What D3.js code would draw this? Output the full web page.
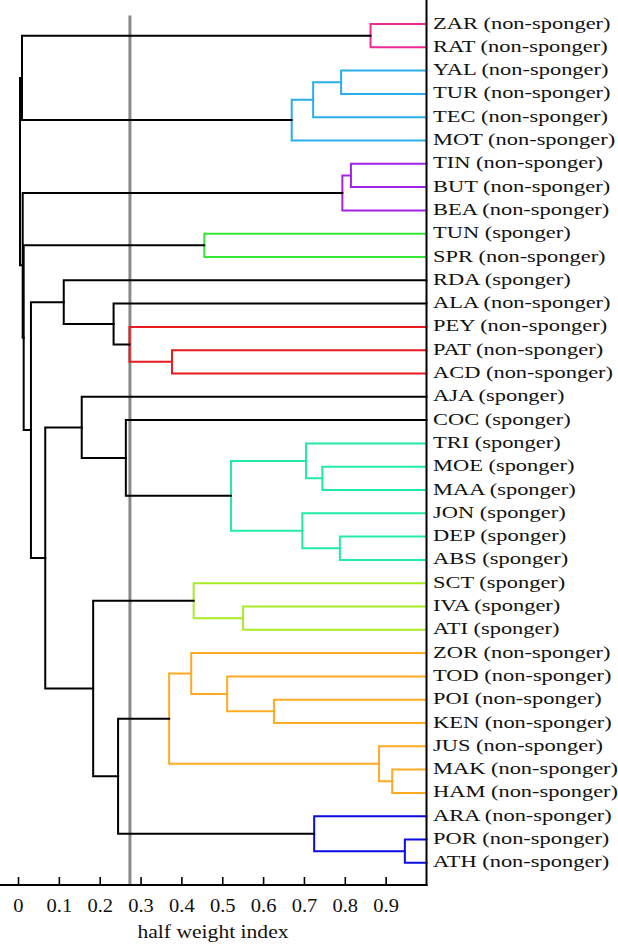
<!DOCTYPE html>
<html>
<head>
<meta charset="utf-8">
<script src="https://cdn.jsdelivr.net/npm/d3@7"></script>
<style>
  html, body { margin: 0; padding: 0; background: #fff; }
  svg { display: block; }
</style>
</head>
<body>
<svg id="chart" width="618" height="946"></svg>
<script>
// ---- data ----
const leaves = ["ZAR","RAT","YAL","TUR","TEC","MOT","TIN","BUT","BEA","TUN","SPR","RDA","ALA","PEY","PAT","ACD","AJA","COC","TRI","MOE","MAA","JON","DEP","ABS","SCT","IVA","ATI","ZOR","TOD","POI","KEN","JUS","MAK","HAM","ARA","POR","ATH"];
const leafTypes = ["non-sponger","non-sponger","non-sponger","non-sponger","non-sponger","non-sponger","non-sponger","non-sponger","non-sponger","sponger","non-sponger","sponger","non-sponger","non-sponger","non-sponger","non-sponger","sponger","sponger","sponger","sponger","sponger","sponger","sponger","sponger","sponger","sponger","sponger","non-sponger","non-sponger","non-sponger","non-sponger","non-sponger","non-sponger","non-sponger","non-sponger","non-sponger","non-sponger"];
// merges: node ids 0..36 are leaves, merge k gets id 37+k
const mergeLeft   = [0, 2, 38, 39, 6, 41, 9, 14, 13, 12, 11, 19, 18, 22, 21, 49, 17, 16, 25, 24, 29, 28, 27, 32, 31, 59, 35, 34, 62, 56, 54, 47, 43, 42, 37, 71];
const mergeRight  = [1, 3, 4, 5, 7, 8, 10, 15, 44, 45, 46, 20, 48, 23, 50, 51, 52, 53, 26, 55, 30, 57, 58, 33, 60, 61, 36, 63, 64, 65, 66, 67, 68, 69, 40, 70];
const mergeHeight = [0.863, 0.791, 0.7225, 0.670, 0.815, 0.794, 0.456, 0.377, 0.273, 0.234, 0.112, 0.745, 0.705, 0.788, 0.696, 0.5215, 0.264, 0.156, 0.551, 0.430, 0.6265, 0.512, 0.424, 0.916, 0.8836, 0.370, 0.947, 0.725, 0.245, 0.184, 0.0667, 0.0317, 0.0139, 0.0115, 0.0098, 0.0049];
const mergeGroup  = ["pink","cyan","cyan","cyan","purple","purple","green","red","red","k","k","teal","teal","teal","teal","teal","k","k","lime","lime","orange","orange","orange","orange","orange","orange","blue","blue","k","k","k","k","k","k","k","k"];
const tickValues = [0, 0.1, 0.2, 0.3, 0.4, 0.5, 0.6, 0.7, 0.8, 0.9];
const cutHeight = 0.274;
const axisTitle = "half weight index";

// ---- styles ----
const groupColors = {
  k: "#000000", pink: "#ec2a98", cyan: "#2aaee8", purple: "#a224e6", green: "#36e836",
  red: "#ea1a1e", teal: "#22eaa8", lime: "#a8ec26", orange: "#ffaa22", blue: "#0c0ce2"
};
const serif = "'Liberation Serif', 'Times New Roman', Times, serif";

const svg = d3.select("#chart");
const x = d3.scaleLinear().domain([0, 1]).range([18, 426.5]);
const y = d3.scalePoint().domain(d3.range(leaves.length)).range([24, 862.8]);
const axisY = 885;

// node positions
const nodeX = [], nodeY = [];
leaves.forEach((d, i) => { nodeX[i] = x(1); nodeY[i] = y(i); });
mergeHeight.forEach((h, k) => {
  const id = leaves.length + k;
  nodeX[id] = x(h);
  nodeY[id] = (nodeY[mergeLeft[k]] + nodeY[mergeRight[k]]) / 2;
});

// cut line
svg.append("line")
  .attr("x1", x(cutHeight)).attr("x2", x(cutHeight))
  .attr("y1", 15.5).attr("y2", axisY)
  .attr("stroke", "#8a8a8a").attr("stroke-width", 3);

// links
const links = mergeHeight.map((h, k) => ({ k, h }));
svg.append("g").selectAll("path").data(links).join("path")
  .attr("fill", "none")
  .attr("stroke", d => groupColors[mergeGroup[d.k]])
  .attr("stroke-width", 2)
  .attr("stroke-linejoin", "miter")
  .attr("stroke-linecap", "square")
  .attr("d", d => {
    const a = mergeLeft[d.k], b = mergeRight[d.k];
    const xn = x(d.h);
    return `M${nodeX[a]},${nodeY[a]}H${xn}V${nodeY[b]}H${nodeX[b]}`;
  });

// frame: right line and bottom axis line
svg.append("line").attr("x1", x(1)).attr("x2", x(1)).attr("y1", 0).attr("y2", axisY + 1)
  .attr("stroke", "#000").attr("stroke-width", 2);
svg.append("line").attr("x1", 0).attr("x2", x(1) + 1).attr("y1", axisY).attr("y2", axisY)
  .attr("stroke", "#000").attr("stroke-width", 2);

// axis ticks
const axis = d3.axisBottom(x).tickValues(tickValues)
  .tickSizeInner(-8).tickSizeOuter(0).tickPadding(0)
  .tickFormat(d => d === 0 ? "0" : d3.format(".1f")(d));
const ag = svg.append("g").attr("transform", `translate(0,${axisY})`).call(axis);
ag.select(".domain").remove();
ag.selectAll(".tick line").attr("stroke", "#000").attr("stroke-width", 1.6);
ag.selectAll(".tick text")
  .attr("y", 0).attr("dy", null)
  .attr("fill", "#111")
  .attr("font-family", serif)
  .attr("font-size", 18)
  .attr("transform", "translate(0,27) scale(1.14,1)");

// axis title
svg.append("text")
  .attr("transform", `translate(${213},938) scale(1.2,1)`)
  .attr("text-anchor", "middle")
  .attr("font-family", serif)
  .attr("font-size", 18)
  .attr("fill", "#111")
  .text(axisTitle);

// leaf labels
svg.append("g").selectAll("text").data(leaves).join("text")
  .attr("transform", (d, i) => `translate(433,${y(i) + 4.5}) scale(1.36,1)`)
  .attr("font-family", serif)
  .attr("font-size", 16.5)
  .attr("fill", "#111")
  .text((d, i) => `${d} (${leafTypes[i]})`);
</script>
</body>
</html>
